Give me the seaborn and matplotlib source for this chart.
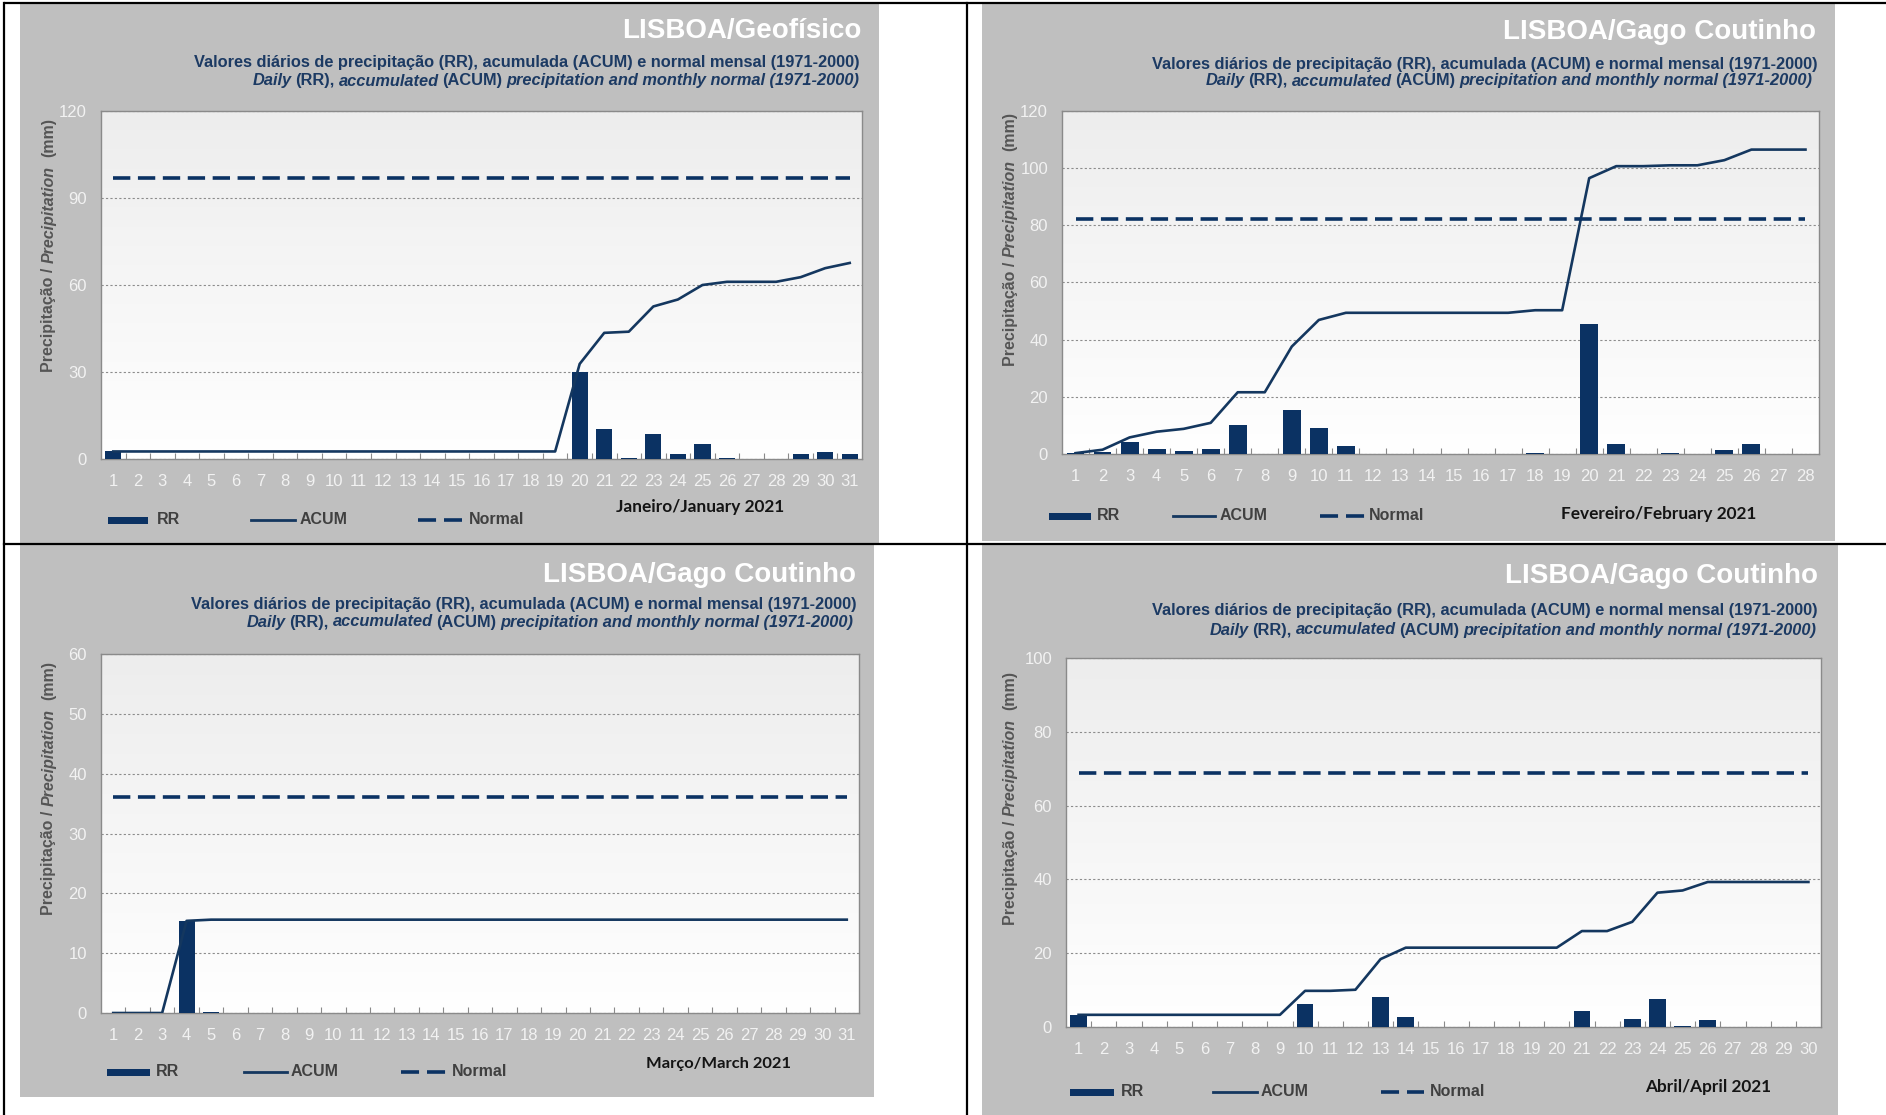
import numpy as np
import pandas as pd
import seaborn as sns
import matplotlib.pyplot as plt
from matplotlib.lines import Line2D
from matplotlib.patches import Rectangle
from matplotlib.colors import LinearSegmentedColormap

plt.rcParams['font.family'] = ['Liberation Sans', 'DejaVu Sans']

W, H = 1886, 1115
NAVY = '#0b3263'
ACUM_COLOR = '#14375f'
PANEL_GRAY = '#bfbfbf'
FRAME = '#8a8a8a'

# ---- data (mm) ----
jan_days = list(range(1, 32))
jan_rr = [2.6, 0, 0, 0, 0, 0, 0, 0, 0, 0, 0, 0, 0, 0, 0, 0, 0, 0, 0,
          30.0, 10.2, 0.4, 8.5, 1.7, 5.3, 0.4, 0, 0, 1.7, 2.5, 1.7]
jan_acum = [2.6, 2.6, 2.6, 2.6, 2.6, 2.6, 2.6, 2.6, 2.6, 2.6, 2.6, 2.6, 2.6,
            2.6, 2.6, 2.6, 2.6, 2.6, 2.6, 32.8, 43.5, 43.9, 52.6, 55.0, 60.0,
            61.1, 61.1, 61.1, 62.7, 65.8, 67.6]
jan_normal = 96.9

feb_days = list(range(1, 29))
feb_rr = [0.3, 0.7, 4.1, 1.9, 0.9, 1.9, 10.0, 0, 15.4, 9.0, 2.8, 0, 0, 0,
          0, 0, 0, 0.3, 0, 45.6, 3.6, 0, 0.3, 0, 1.3, 3.5, 0, 0]
feb_acum = [0.3, 1.5, 5.8, 7.8, 8.8, 10.9, 21.6, 21.6, 37.6, 46.9, 49.4, 49.4,
            49.4, 49.4, 49.4, 49.4, 49.4, 50.3, 50.3, 96.5, 100.7, 100.7,
            101.0, 101.0, 102.8, 106.5, 106.5, 106.5]
feb_normal = 82.1

mar_days = list(range(1, 32))
mar_rr = [0, 0, 0, 15.4, 0.2, 0, 0, 0, 0, 0, 0, 0, 0, 0, 0, 0, 0, 0, 0, 0,
          0, 0, 0, 0, 0, 0, 0, 0, 0, 0, 0]
mar_acum = [0, 0, 0, 15.4, 15.6, 15.6, 15.6, 15.6, 15.6, 15.6, 15.6, 15.6,
            15.6, 15.6, 15.6, 15.6, 15.6, 15.6, 15.6, 15.6, 15.6, 15.6, 15.6,
            15.6, 15.6, 15.6, 15.6, 15.6, 15.6, 15.6, 15.6]
mar_normal = 36.1

apr_days = list(range(1, 31))
apr_rr = [3.2, 0, 0, 0, 0, 0, 0, 0, 0, 6.1, 0, 0, 8.2, 2.8, 0, 0, 0, 0, 0, 0,
          4.3, 0, 2.2, 7.5, 0.3, 1.8, 0, 0, 0, 0]
apr_acum = [3.3, 3.3, 3.3, 3.3, 3.3, 3.3, 3.3, 3.3, 3.3, 9.8, 9.8, 10.1, 18.4,
            21.5, 21.5, 21.5, 21.5, 21.5, 21.5, 21.5, 26.0, 26.0, 28.5, 36.4,
            37.0, 39.3, 39.3, 39.3, 39.3, 39.3]
apr_normal = 68.8

stations = ['LISBOA/Geofísico', 'LISBOA/Gago Coutinho',
            'LISBOA/Gago Coutinho', 'LISBOA/Gago Coutinho']
months = ['Janeiro/January 2021', 'Fevereiro/February 2021',
          'Março/March 2021', 'Abril/April 2021']

fig = plt.figure(figsize=(W / 100, H / 100), dpi=100)
fig.patch.set_facecolor('white')
renderer = fig.canvas.get_renderer()


def fx(x):
    return x / W


def fy(y):
    return 1 - y / H


def space_width(size):
    a = fig.text(0, 0, 'a a', fontsize=size, fontweight='bold')
    b = fig.text(0, 0, 'aa', fontsize=size, fontweight='bold')
    w = a.get_window_extent(renderer).width - b.get_window_extent(renderer).width
    a.remove()
    b.remove()
    return w


def runs_right(x, y, runs, size, color):
    # mixed upright / italic pieces, laid right to left
    gap = 0.8 * space_width(size)
    for txt, style in reversed(runs):
        t = fig.text(fx(x), fy(y), txt, ha='right', va='center', fontsize=size,
                     color=color, fontweight='bold', fontstyle=style)
        x -= t.get_window_extent(renderer).width + gap


def ylabel_runs(x, yc, size, color):
    runs = [('Precipitação /', 'normal', 0), ('Precipitation', 'italic', 1),
            ('(mm)', 'normal', 2)]
    gap = space_width(size)
    texts, lens = [], []
    for txt, style, _ in runs:
        t = fig.text(fx(x), 0.5, txt, rotation=90, rotation_mode='anchor',
                     ha='left', va='center', fontsize=size, color=color,
                     fontweight='bold', fontstyle=style)
        texts.append(t)
        lens.append(t.get_window_extent(renderer).height)
    total = sum(lens) + sum(r[2] for r in runs) * gap
    y = yc + total / 2
    for t, L, r in zip(texts, lens, runs):
        y -= r[2] * gap
        t.set_y(fy(y))
        y -= L


def fit_text(t, width):
    w = t.get_window_extent(renderer).width
    t.set_fontsize(t.get_fontsize() * width / w)


layout = [
    dict(rect=(101, 111, 862, 459), gray=(20, 4, 879, 543), title=(861, 31),
         sub1=(860, 63), sub2=(859, 81), ylab=(49, 245), ymax=120, ystep=30,
         leg_y=520, patch=(108, 148), rr_x=157, acum=(251, 295), acum_x=300,
         normal=(418, 462), normal_x=469, month=(616, 507, 167)),
    dict(rect=(1062, 111, 1819, 454), gray=(982, 4, 1835, 541), title=(1816, 32),
         sub1=(1818, 64), sub2=(1812, 81), ylab=(1010, 239), ymax=120, ystep=20,
         leg_y=516, patch=(1049, 1091), rr_x=1097, acum=(1173, 1215), acum_x=1220,
         normal=(1320, 1365), normal_x=1369, month=(1561, 514, 195)),
    dict(rect=(101, 654, 859, 1013), gray=(20, 545, 874, 1097), title=(856, 575),
         sub1=(857, 605), sub2=(853, 622), ylab=(49, 788), ymax=60, ystep=10,
         leg_y=1072, patch=(107, 150), rr_x=156, acum=(244, 287), acum_x=291,
         normal=(401, 446), normal_x=452, month=(646, 1064, 144)),
    dict(rect=(1066, 658, 1821, 1027), gray=(982, 545, 1838, 1115), title=(1818, 576),
         sub1=(1818, 610), sub2=(1816, 630), ylab=(1010, 798), ymax=100, ystep=20,
         leg_y=1092, patch=(1070, 1114), rr_x=1121, acum=(1213, 1257), acum_x=1261,
         normal=(1381, 1424), normal_x=1430, month=(1645, 1087, 125)),
]

series = [(jan_days, jan_rr, jan_acum, jan_normal),
          (feb_days, feb_rr, feb_acum, feb_normal),
          (mar_days, mar_rr, mar_acum, mar_normal),
          (apr_days, apr_rr, apr_acum, apr_normal)]

# table borders
for xs, ys in [((5, 1886), (3, 3)), ((4, 1886), (544, 544)),
               ((4, 4), (3, 1115)), ((967, 967), (3, 1115))]:
    fig.add_artist(Line2D([fx(x) for x in xs], [fy(y) for y in ys],
                          color='black', lw=1.6, zorder=-4))

bg_cmap = LinearSegmentedColormap.from_list('bg', ['#ffffff', '#ededed'])
sub1_runs = [('Valores diários de precipitação (RR), acumulada (ACUM) e normal mensal (1971-2000)', 'normal')]
sub2_runs = [('Daily', 'italic'), ('(RR),', 'normal'), ('accumulated', 'italic'),
             ('(ACUM)', 'normal'), ('precipitation and monthly normal (1971-2000)', 'italic')]

for lay, (days, rr, acum, normal), station, month in zip(layout, series, stations, months):
    gx0, gy0, gx1, gy1 = lay['gray']
    fig.add_artist(Rectangle((fx(gx0), fy(gy1)), (gx1 - gx0) / W, (gy1 - gy0) / H,
                             transform=fig.transFigure, facecolor=PANEL_GRAY,
                             edgecolor='none', zorder=-5))

    x0, y0, x1, y1 = lay['rect']
    ax = fig.add_axes([fx(x0), fy(y1), (x1 - x0) / W, (y1 - y0) / H])
    n = len(days)
    df = pd.DataFrame({'day': days, 'RR': rr, 'ACUM': acum, 'Normal': [normal] * n})

    ax.imshow(np.linspace(0, 1, 256).reshape(-1, 1), extent=(0, 1, 0, 1),
              transform=ax.transAxes, cmap=bg_cmap, aspect='auto',
              origin='lower', zorder=0)
    sns.barplot(data=df, x='day', y='RR', native_scale=True, width=0.66,
                color=NAVY, saturation=1, errorbar=None, ax=ax, zorder=3)
    sns.lineplot(data=df, x='day', y='ACUM', color=ACUM_COLOR, lw=1.9, ax=ax, zorder=4)
    sns.lineplot(data=df, x='day', y='Normal', color=NAVY, lw=2.6,
                 linestyle=(0, (4.8, 2.1)), ax=ax, zorder=4)

    ax.set_xlim(0.5, n + 0.5)
    ax.set_ylim(0, lay['ymax'])
    ax.set_xticks(days)
    ax.set_xticklabels([str(d) for d in days])
    ax.set_xticks(np.arange(1.5, n, 1), minor=True)
    ax.set_yticks(np.arange(0, lay['ymax'] + 1, lay['ystep']))
    ax.set_xlabel('')
    ax.set_ylabel('')
    ax.yaxis.grid(True, linestyle=(0, (2, 2)), color='#8c8c8c', lw=0.8)
    ax.set_axisbelow(True)
    ax.tick_params(axis='x', which='major', length=0, pad=11, labelsize=12,
                   labelcolor='#f2f2f2')
    ax.tick_params(axis='x', which='minor', direction='in', length=4.5,
                   width=0.8, color=FRAME)
    ax.tick_params(axis='y', length=0, pad=10, labelsize=12, labelcolor='#f2f2f2')
    for s in ax.spines.values():
        s.set_color(FRAME)
        s.set_linewidth(1.0)

    # headings
    tx, ty = lay['title']
    fig.text(fx(tx), fy(ty), station, ha='right', va='center', fontsize=20,
             fontweight='bold', color='white')
    runs_right(lay['sub1'][0], lay['sub1'][1], sub1_runs, 11.8, '#1c3a63')
    runs_right(lay['sub2'][0], lay['sub2'][1], sub2_runs, 11.8, '#1c3a63')
    ylabel_runs(lay['ylab'][0], lay['ylab'][1], 11.5, '#555555')

    # legend row
    ly = lay['leg_y']
    px0, px1 = lay['patch']
    fig.add_artist(Rectangle((fx(px0), fy(ly + 3.5)), (px1 - px0) / W, 7 / H,
                             transform=fig.transFigure, facecolor=NAVY,
                             edgecolor='none'))
    fig.add_artist(Line2D([fx(lay['acum'][0]), fx(lay['acum'][1])], [fy(ly), fy(ly)],
                          color=ACUM_COLOR, lw=2.0))
    fig.add_artist(Line2D([fx(lay['normal'][0]), fx(lay['normal'][1])], [fy(ly), fy(ly)],
                          color=NAVY, lw=2.6, linestyle=(0, (5.0, 2.2))))
    for lx, lab in [(lay['rr_x'], 'RR'), (lay['acum_x'], 'ACUM'), (lay['normal_x'], 'Normal')]:
        fig.text(fx(lx), fy(ly), lab, ha='left', va='center', fontsize=11.5,
                 fontweight='bold', color='#404040')
    mx, my, mw = lay['month']
    mt = fig.text(fx(mx), fy(my), month, ha='left', va='center', fontsize=12,
                  fontweight='bold', color='#141414',
                  family=['Liberation Sans Narrow', 'Lato', 'DejaVu Sans'])
    fit_text(mt, mw)

fig.savefig('out.png', dpi=100)
